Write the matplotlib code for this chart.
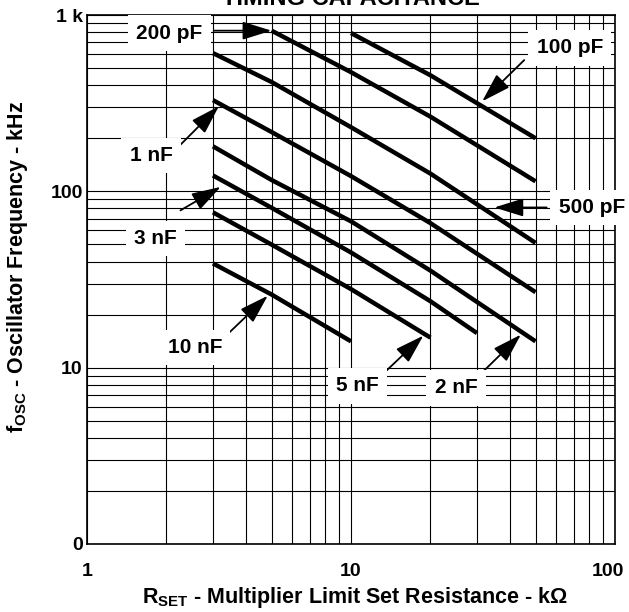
import numpy as np
import matplotlib.pyplot as plt
import matplotlib.transforms as mtransforms

plt.rcParams['font.family'] = ['Liberation Sans', 'DejaVu Sans']
plt.rcParams['font.weight'] = 'bold'
plt.rcParams['mathtext.fontset'] = 'custom'
plt.rcParams['mathtext.rm'] = 'Liberation Sans:bold'
plt.rcParams['mathtext.it'] = 'Liberation Sans:bold'
plt.rcParams['mathtext.bf'] = 'Liberation Sans:bold'

# curves: R_SET in kOhm, f_OSC in kHz
r_100p = [10, 20, 50]
f_100p = [790, 455, 200]
r_200p = [5, 10, 20, 50]
f_200p = [815, 474, 265, 114]
r_500p = [3, 5, 10, 20, 50]
f_500p = [608, 417, 231, 126, 51]
r_1n = [3, 5, 10, 20, 50]
f_1n = [329, 217, 122, 66, 26.8]
r_2n = [3, 5, 10, 20, 50]
f_2n = [180, 116, 67.6, 35.5, 14.1]
r_3n = [3, 5, 10, 20, 30]
f_3n = [123, 80.7, 45, 23.8, 15.7]
r_5n = [3, 5, 10, 20]
f_5n = [76, 49.9, 27.9, 14.8]
r_10n = [3, 5, 10]
f_10n = [39, 26, 14.1]

x_ticks = [1, 10, 100]
x_ticklabels = ['1', '10', '100']
y_ticks = [1, 10, 100, 1000]
y_ticklabels = ['0', '10', '100', '1 k']

fig = plt.figure(figsize=(6.29, 6.12), dpi=100)
ax = fig.add_axes([87 / 629, 68 / 612, 528 / 629, 529 / 612])

for r, f in [(r_100p, f_100p), (r_200p, f_200p), (r_500p, f_500p), (r_1n, f_1n),
             (r_2n, f_2n), (r_3n, f_3n), (r_5n, f_5n), (r_10n, f_10n)]:
    ax.plot(r, f, color='black', lw=3.2, solid_capstyle='butt', zorder=2)

ax.set_xscale('log')
ax.set_yscale('log')
ax.set_xlim(1, 100)
ax.set_ylim(1, 1000)
ax.set_xticks(x_ticks)
ax.set_xticklabels(x_ticklabels)
ax.set_yticks(y_ticks)
ax.set_yticklabels(y_ticklabels)
ax.grid(which='both', color='black', lw=0.8)
ax.tick_params(which='both', length=0, labelsize=14)
ax.tick_params(axis='x', pad=14)
ax.tick_params(axis='y', pad=3)
for s in ax.spines.values():
    s.set_linewidth(1.2)

# last x label sits a bit left of its grid line, as in the reference
last = ax.get_xticklabels()[-1]
last.set_transform(last.get_transform() + mtransforms.ScaledTranslation(-7 / 100, 0, fig.dpi_scale_trans))

box = dict(boxstyle='square,pad=0.4', facecolor='white', edgecolor='none')
arrow = dict(arrowstyle='-|>,head_length=0.9,head_width=0.28', color='black',
             lw=1.3, mutation_scale=20, shrinkA=0, shrinkB=0)

def label(txt, pos, tail, tip):
    ax.annotate('', xy=tip, xytext=tail, arrowprops=arrow, zorder=4)
    ax.text(pos[0], pos[1], txt, ha='center', va='center', fontsize=15,
            weight='bold', bbox=box, zorder=5, clip_on=False)

label('200 pF', (2.05, 790), (3.02, 815), (5, 815))
label('100 pF', (67.4, 650), (45.3, 555), (31.4, 324))
label('500 pF', (81.7, 81), (55.1, 81), (34.9, 81))
label('1 nF', (1.75, 160), (2.22, 179), (3.16, 304))
label('3 nF', (1.82, 54), (2.26, 78), (3.21, 106))
label('10 nF', (2.56, 13), (3.41, 15.5), (4.84, 25.6))
label('5 nF', (10.6, 7.9), (13.4, 9.4), (18.8, 15.2))
label('2 nF', (25, 7.7), (30.5, 9.0), (44, 15.4))

fig.text(0.558, 1 - 5 / 612, 'TIMING CAPACITANCE', ha='center', va='baseline',
         fontsize=17, weight='bold')
fig.text(0.564, 1 - 598 / 612, r'R$_{\mathrm{SET}}$ - Multiplier Limit Set Resistance - k$\Omega$',
         ha='center', va='center', fontsize=15.5, weight='bold')
fig.text(18 / 629, 1 - 267 / 612, r'f$_{\mathrm{OSC}}$ - Oscillator Frequency - kHz',
         ha='center', va='center', rotation=90, fontsize=15.5, weight='bold')

plt.savefig('out.png', dpi=100)
